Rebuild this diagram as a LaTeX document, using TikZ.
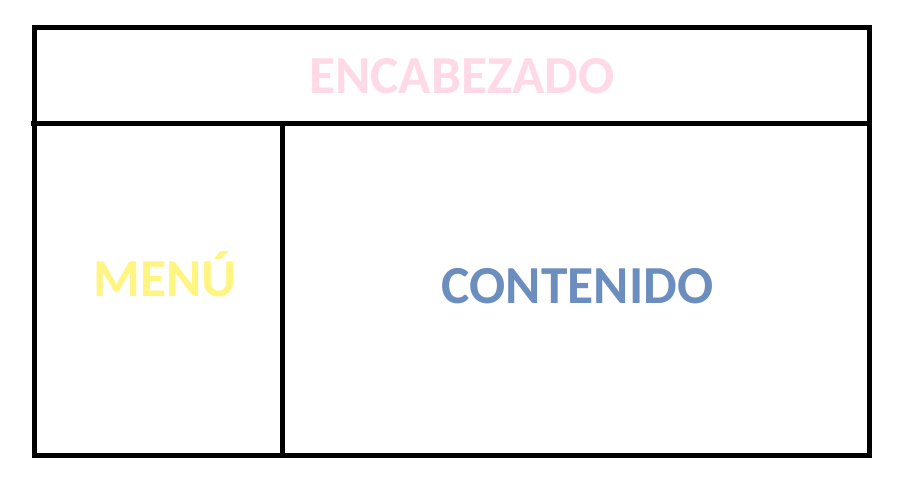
\documentclass[tikz,border=0pt]{standalone}
\usepackage{fontspec}
\setmainfont{Carlito}
\definecolor{pinkc}{RGB}{255,217,230}
\definecolor{yellowc}{RGB}{255,245,128}
\definecolor{bluec}{RGB}{108,142,191}
\begin{document}
\begin{tikzpicture}[x=1pt,y=-1pt,
  frame/.style={line width=5pt,black},
  lbl/.style={font=\fontsize{53.5}{53.5}\selectfont\bfseries,anchor=base,inner sep=0pt}]
\useasboundingbox (0,0) rectangle (909,500);
\draw[frame] (34.5,27.5) rectangle (869,455);
\draw[frame] (31,123) -- (869,123);
\draw[frame] (282.5,123) -- (282.5,455);
\node[lbl,text=pinkc] (head) at (462,93.3) {ENCABEZADO};
\node[lbl,text=yellowc] (menu) at (165,296.7) {MENÚ};
\node[lbl,text=bluec] (cont) at (577.5,303.3) {CONTENIDO};
\end{tikzpicture}
\end{document}
